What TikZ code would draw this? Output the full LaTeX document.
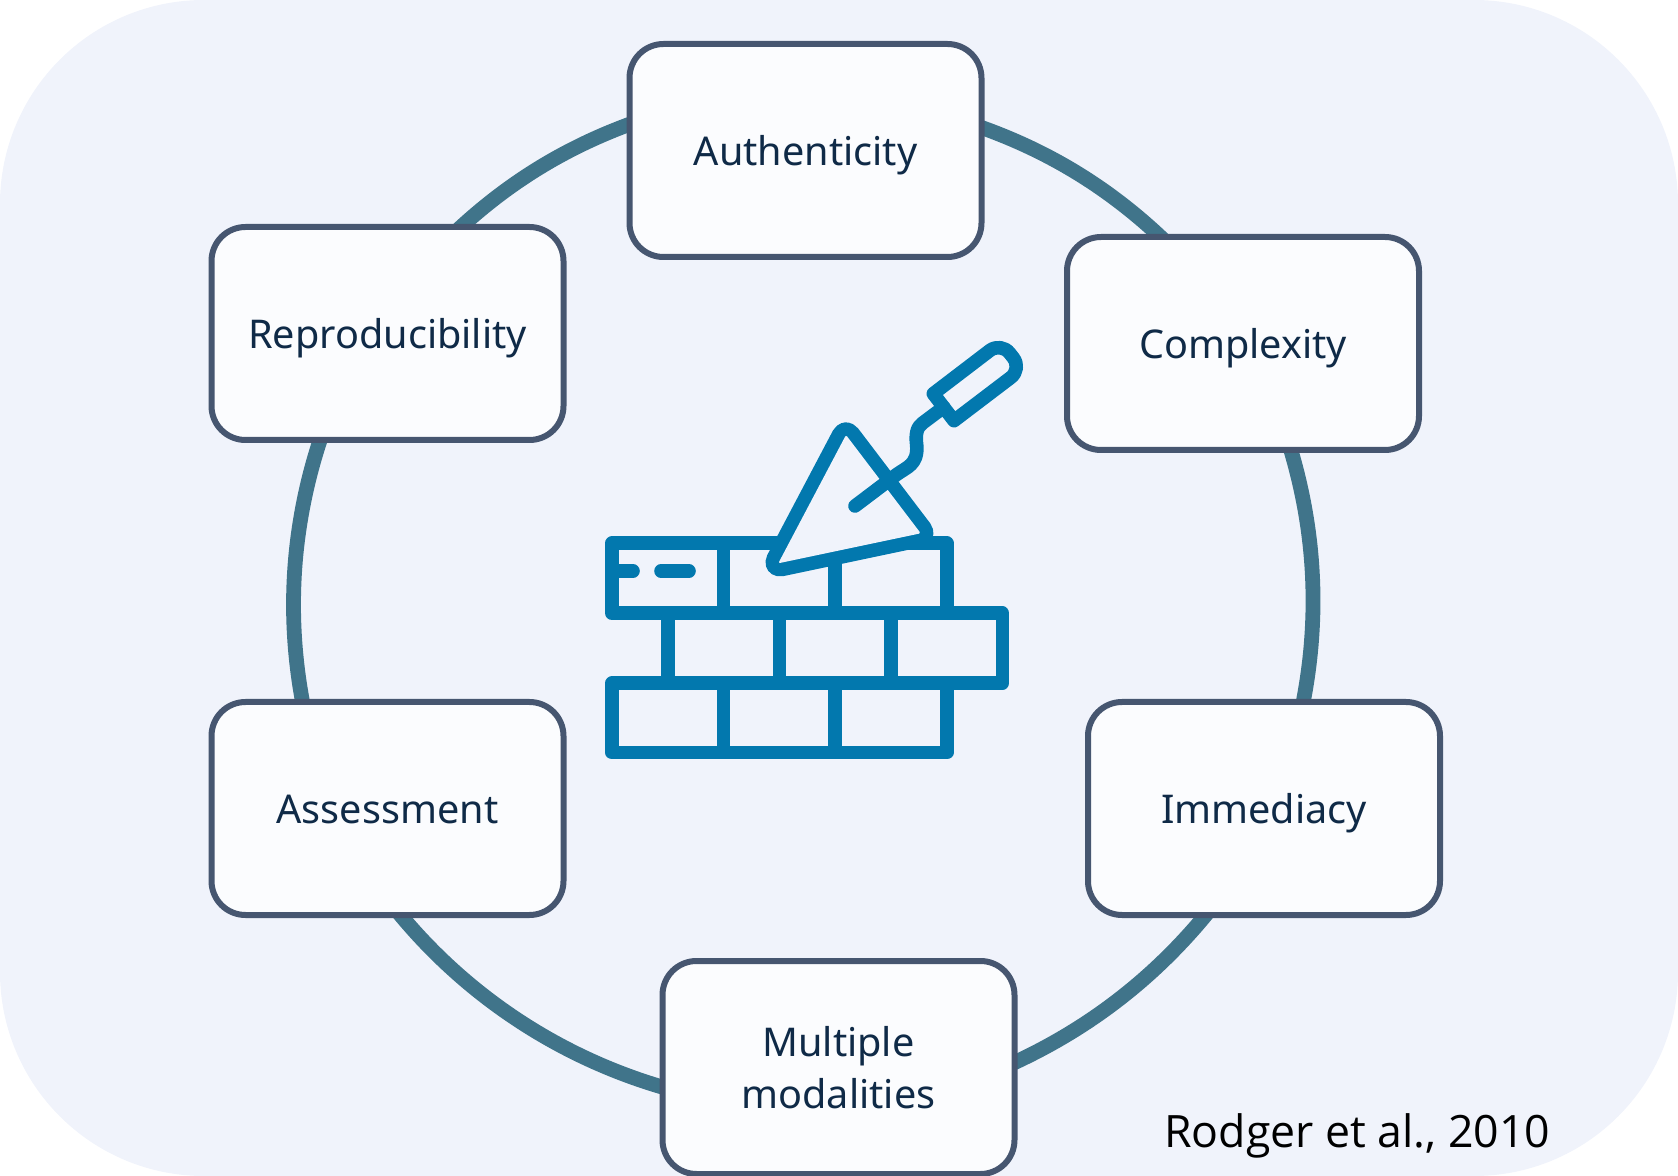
\documentclass[tikz,border=0pt]{standalone}
\usepackage{fontspec}
\setmainfont{Noto Sans}
\newfontfamily\creditfont{Open Sans}

\definecolor{panelBlue}{HTML}{F0F3FB}
\definecolor{boxFill}{HTML}{FBFCFE}
\definecolor{boxEdge}{HTML}{465670}
\definecolor{boxText}{HTML}{0F2A47}
\definecolor{ringTeal}{HTML}{40748A}
\definecolor{iconBlue}{HTML}{0278AE}

\pgfdeclarelayer{behind}
\pgfsetlayers{behind,main}

\tikzset{
	box/.style={rectangle,draw=boxEdge,fill=boxFill,line width=3pt,rounded corners=17pt,minimum width=176pt,minimum height=106.5pt,inner sep=0pt,align=center,text=boxText,font=\fontsize{19.8}{25.7}\selectfont},
	oneline/.style={text height=15pt,text depth=0pt},
	ring/.style={draw=ringTeal,line width=7.4pt,looseness=0.85,shorten >=-4pt,shorten <=-4pt},
	icon/.style={draw=iconBlue,line width=6.8pt,line join=round}
}

\begin{document}
\begin{tikzpicture}[x=0.5pt,y=-0.5pt]
	\useasboundingbox (0,0) rectangle (1678,1176);

	\newcommand\drawBox[4]{\node[box,oneline] at (#1,#2) (#4) {#3};}

	\drawBox{805.5}{150.5}{Authenticity}{auth}
	\drawBox{1243}{343.5}{Complexity}{comp}
	\drawBox{1264}{808.5}{Immediacy}{imme}
	\node[box] at (838.5,1067.5) (moda) {Multiple\\modalities};
	\drawBox{387.5}{808.5}{Assessment}{asse}
	\drawBox{387.5}{333.5}{Reproducibility}{repr}

	\begin{pgfonlayer}{behind}
		\fill[panelBlue,rounded corners=102pt] (0,0) rectangle (1678,1176);
		\draw[ring] (auth.7.5) to[bend left=12.2] (comp.128);
		\draw[ring] (comp.-66) to[bend left=14.25] (imme.70);
		\draw[ring] (imme.241) to[bend left=13.2] (moda.2.4);
		\draw[ring] (moda.186.1) to[bend left=17.4] (asse.-82);
		\draw[ring] (asse.128) to[bend left=14.85] (repr.238);
		\draw[ring] (repr.55) to[bend left=11.5] (auth.172.6);
	\end{pgfonlayer}

	% brick wall
	\draw[icon] (781,543.3) -- (612,543.3) -- (612,613.3) -- (1002.3,613.3) -- (1002.3,683.3) -- (612,683.3) -- (612,752.7) -- (946.7,752.7) -- (946.7,683.3);
	\draw[icon] (907,543.3) -- (946.7,543.3) -- (946.7,613.3);
	\draw[icon] (723.3,543.3) -- (723.3,613.3);
	\draw[icon] (835,558) -- (835,613.3);
	\foreach \x in {667.7,779.3,890.7}
	{
		\draw[icon] (\x,613.3) -- (\x,683.3);
	}
	\foreach \x in {723.3,835}
	{
		\draw[icon] (\x,683.3) -- (\x,752.7);
	}
	\draw[icon,line cap=round] (612,571) -- (633,571);
	\draw[icon,line cap=round] (661,571) -- (689,571);

	% trowel
	\draw[icon,line width=13.6pt,rounded corners=1pt] (846,435) -- (920.7,533.3) -- (778.3,563.3) -- cycle;
	\fill[panelBlue,rounded corners=1pt] (846,435) -- (920.7,533.3) -- (778.3,563.3) -- cycle;
	\draw[icon,line cap=round] (855,506) -- (896,475) .. controls (906.7,467) and (918.3,465) .. (916.7,445) .. controls (915.3,435) and (916.7,427.3) .. (922.3,423.3) -- (943.7,407.3);
	\draw[icon] (933.3,393.7) [rounded corners=7pt] -- (1001,342) -- (1022,369) [sharp corners] -- (954,420.7) -- cycle;

	\node[anchor=base west,inner sep=0pt,text=black,font=\creditfont\fontsize{22.3}{25}\selectfont] at (1164,1147) (credit) {Rodger et al., 2010};
\end{tikzpicture}
\end{document}
